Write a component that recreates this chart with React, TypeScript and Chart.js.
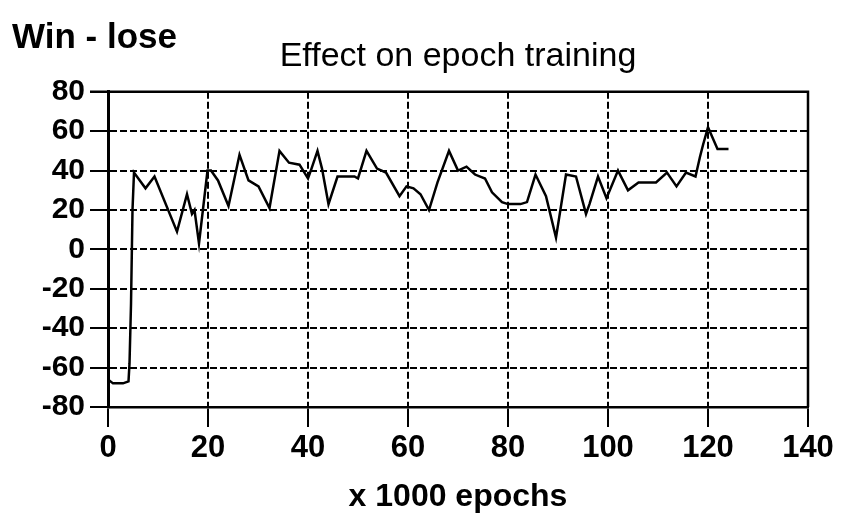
import React, { useEffect, useRef } from "react";
import { Chart, registerables } from "chart.js";

Chart.register(...registerables);

// ---- data ----
const chartTitle = "Effect on epoch training";
const yAxisLabel = "Win - lose";
const xAxisLabel = "x 1000 epochs";

const xTickValues = [0, 20, 40, 60, 80, 100, 120, 140];
const yTickValues = [-80, -60, -40, -20, 0, 20, 40, 60, 80];

// epochs (x 1000)
const epochs = [
  0, 1, 3, 4.1, 4.3, 4.6, 4.9, 5.2, 7.5, 9.3, 13.8, 15.8, 16.8, 17.3, 18.2, 19.9,
  20.6, 22, 24.1, 26.3, 28.1, 30.1, 32.3, 34.3, 36.2, 38.3, 40, 40.7, 41.9, 42.8,
  44.1, 45.9, 49.3, 50, 51.7, 53.8, 55.6, 58.3, 59.7, 61.1, 62.5, 64.2, 65.9, 68.2,
  70, 71.7, 73.4, 75.4, 76.8, 78.8, 80, 82.5, 83.8, 85.5, 87.6, 89.6, 91.6, 93.6,
  95.6, 96.3, 98, 99.7, 102, 104, 106.1, 109.6, 111.8, 113.7, 115.6, 117.5, 118.4,
  119, 120, 121.9, 124.1,
];

// win - lose
const winLose = [
  -66, -68, -68, -67, -58, -28, 20, 39, 31, 37, 9, 28, 18, 20, 3, 40,
  40, 35, 22, 48, 35, 32, 21, 50, 44, 43, 36, 41, 50, 41,
  23, 37, 37, 36, 50, 41, 39, 27, 32, 31, 28, 20, 34, 50,
  40, 42, 38, 36, 29, 24, 23, 23, 24, 38, 27, 6, 38, 37,
  18, 23, 37, 26, 40, 30, 34, 34, 39, 32, 39, 37, 47,
  53, 62, 51, 51,
];

const FONT = "'Liberation Sans', Arial, Helvetica, sans-serif";

export default function App() {
  const canvasRef = useRef<HTMLCanvasElement | null>(null);

  useEffect(() => {
    const canvas = canvasRef.current;
    if (!canvas) return;

    const framePlugin = {
      id: "frameAndLabel",
      afterDraw(chart: any) {
        const { ctx, chartArea } = chart;
        ctx.save();
        ctx.strokeStyle = "#000";
        ctx.lineWidth = 2.5;
        ctx.setLineDash([]);
        ctx.beginPath();
        ctx.moveTo(chartArea.left - 18, chartArea.top);
        ctx.lineTo(chartArea.right, chartArea.top);
        ctx.lineTo(chartArea.right, chartArea.bottom);
        ctx.stroke();
        ctx.fillStyle = "#000";
        ctx.font = `bold 35px ${FONT}`;
        ctx.textAlign = "left";
        ctx.textBaseline = "middle";
        ctx.fillText(yAxisLabel, 12, 38);
        ctx.restore();
      },
    };

    const chart = new Chart(canvas, {
      type: "line",
      data: {
        datasets: [
          {
            data: epochs.map((x, i) => ({ x, y: winLose[i] })),
            borderColor: "#000",
            borderWidth: 2.5,
            pointRadius: 0,
            tension: 0,
            fill: false,
          },
        ],
      },
      options: {
        responsive: false,
        animation: false,
        layout: { padding: { left: 0, right: 34, top: 0, bottom: 0 } },
        plugins: {
          legend: { display: false },
          tooltip: { enabled: false },
          title: {
            display: true,
            text: chartTitle,
            fullSize: false,
            color: "#000",
            font: { family: FONT, size: 34, weight: "normal", lineHeight: 1.2 },
            padding: { top: 36, bottom: 15 },
          },
        },
        scales: {
          x: {
            type: "linear",
            min: 0,
            max: 140,
            afterBuildTicks(scale: any) {
              scale.ticks = xTickValues.map((v) => ({ value: v }));
            },
            afterFit(scale: any) {
              scale.height = 115;
            },
            ticks: {
              color: "#000",
              font: { family: FONT, size: 31, weight: "bold" },
              padding: 3,
              maxRotation: 0,
              autoSkip: false,
            },
            grid: {
              color: "#000",
              lineWidth: 2,
              tickLength: 20,
              tickBorderDash: [],
              tickWidth: 2,
            },
            border: { display: true, color: "#000", width: 2.5, dash: [7, 3] },
            title: {
              display: true,
              text: xAxisLabel,
              color: "#000",
              font: { family: FONT, size: 32, weight: "bold", lineHeight: 1.2 },
              padding: { top: 0, bottom: 6 },
            },
          },
          y: {
            type: "linear",
            min: -80,
            max: 80,
            afterBuildTicks(scale: any) {
              scale.ticks = yTickValues.map((v) => ({ value: v }));
            },
            afterFit(scale: any) {
              scale.width = 108;
            },
            ticks: {
              color: "#000",
              font: { family: FONT, size: 30, weight: "bold" },
              padding: 5,
              autoSkip: false,
            },
            grid: {
              color: "#000",
              lineWidth: 2,
              tickLength: 18,
              tickBorderDash: [],
              tickWidth: 2,
            },
            border: { display: true, color: "#000", width: 3, dash: [7, 3] },
          },
        },
      },
      plugins: [framePlugin],
    });

    return () => {
      chart.destroy();
    };
  }, []);

  return (
    <div
      style={{
        position: "absolute",
        left: 0,
        top: 0,
        width: 842,
        height: 522,
        background: "#fff",
      }}
    >
      <canvas ref={canvasRef} width={842} height={522} />
    </div>
  );
}
